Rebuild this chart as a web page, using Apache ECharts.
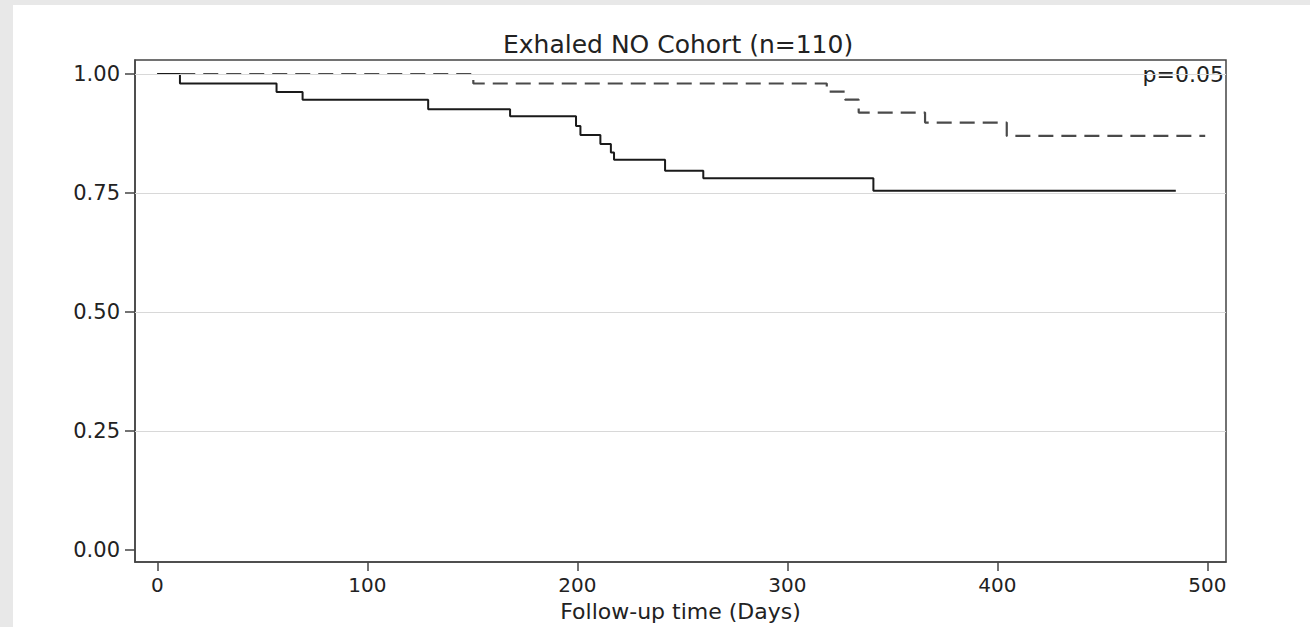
<!DOCTYPE html>
<html lang="en">
<head>
    <meta charset="UTF-8">
    <title>Exhaled NO Cohort</title>
    <script src="https://cdn.jsdelivr.net/npm/echarts@6/dist/echarts.min.js"></script>
    <style>
        body {
            padding: 0;
            margin: 0;
            background: #e8e8e8;
        }
        #ec {
            position: absolute;
            left: 13px;
            top: 5px;
            width: 1297px;
            height: 622px;
            background: #fff;
        }
    </style>
</head>
<body>
<div id="ec"></div>
<script>
    // Kaplan-Meier steps
    let solidTime = [0, 10.8, 56.8, 69.2, 129, 168, 199.4, 201.5, 211, 216, 217.5, 241.8, 260, 341, 485];
    let solidSurv = [1, 0.980, 0.962, 0.946, 0.926, 0.911, 0.891, 0.872, 0.853, 0.835, 0.820, 0.797, 0.781, 0.755, 0.755];
    let dashTime = [0, 150.5, 318.8, 327.5, 334, 365.6, 404.5, 499];
    let dashSurv = [1, 0.980, 0.963, 0.946, 0.919, 0.898, 0.870, 0.870];
    let xTicks = [0, 100, 200, 300, 400, 500];
    let yTicks = [0, 0.25, 0.5, 0.75, 1];
    let gridValues = [0.25, 0.5, 0.75, 1];

    let font = 'DejaVu Sans';
    let ec = echarts.init(document.getElementById('ec'), null, {renderer: 'svg'});

    function pairs(xs, ys) {
        return xs.map((x, i) => [x, ys[i]]);
    }

    let option = {
        animation: false,
        graphic: [
            {
                type: 'text',
                left: 490,
                top: 27,
                style: {text: 'Exhaled NO Cohort (n=110)', font: '25px "DejaVu Sans"', fill: '#222'}
            },
            {
                type: 'text',
                right: 86,
                top: 58,
                style: {text: 'p=0.05', font: '22px "DejaVu Sans"', fill: '#222'}
            }
        ],
        grid: {
            left: 122,
            top: 55,
            right: 84,
            bottom: 64,
            show: true,
            borderColor: '#444',
            borderWidth: 1.5
        },
        xAxis: {
            type: 'value',
            min: -10.6,
            max: 508.9,
            name: 'Follow-up time (Days)',
            nameLocation: 'middle',
            nameGap: 36,
            nameTextStyle: {fontFamily: font, fontSize: 22, color: '#222'},
            axisLine: {onZero: false, lineStyle: {color: '#444', width: 1.5}},
            axisTick: {show: true, length: 9, customValues: xTicks, lineStyle: {color: '#444', width: 1.5}},
            axisLabel: {customValues: xTicks, fontFamily: font, fontSize: 20, color: '#222', margin: 13},
            splitLine: {show: false}
        },
        yAxis: {
            type: 'value',
            min: -0.0252,
            max: 1.0294,
            axisLine: {show: true, onZero: false, lineStyle: {color: '#444', width: 1.5}},
            axisTick: {show: true, length: 10, customValues: yTicks, lineStyle: {color: '#444', width: 1.5}},
            axisLabel: {
                customValues: yTicks,
                fontFamily: font,
                fontSize: 21,
                color: '#222',
                margin: 15,
                formatter: v => v.toFixed(2)
            },
            splitLine: {show: false}
        },
        series: [
            {
                name: 'grid',
                type: 'line',
                data: [],
                silent: true,
                markLine: {
                    silent: true,
                    symbol: 'none',
                    label: {show: false},
                    lineStyle: {color: '#d8d8d8', width: 1.2, type: 'solid'},
                    data: gridValues.map(v => ({yAxis: v}))
                }
            },
            {
                name: 'high',
                type: 'line',
                step: 'end',
                showSymbol: false,
                lineStyle: {color: '#4a4a4a', width: 2.2, type: [15, 8]},
                data: pairs(dashTime, dashSurv)
            },
            {
                name: 'low',
                type: 'line',
                step: 'end',
                showSymbol: false,
                lineStyle: {color: '#1a1a1a', width: 2},
                data: pairs(solidTime, solidSurv)
            }
        ]
    };
    ec.setOption(option);
</script>
</body>
</html>
